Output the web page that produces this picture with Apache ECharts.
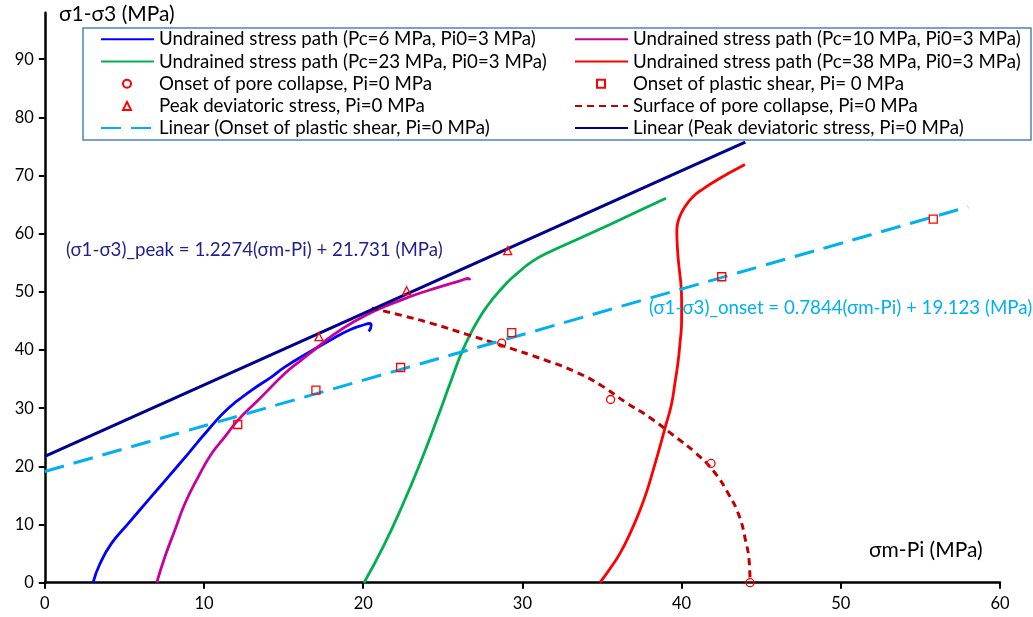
<!DOCTYPE html>
<html>
<head>
<meta charset="utf-8">
<script src="https://cdn.jsdelivr.net/npm/echarts@6/dist/echarts.min.js"></script>
<style>
  html, body { margin: 0; padding: 0; background: #fff; }
  #chart { width: 1033px; height: 617px; }
</style>
</head>
<body>
<div id="chart"></div>
<script>
// stress paths [σm-Pi, σ1-σ3]
var pathPc6 = [[3.03,0],[3.47,3.3],[4.2,6.8],[5.25,10.2],[6.5,14.2],[7.76,18.2],[9.01,22.2],[10.27,26.3],[11.53,30.0],
  [13.0,33.1],[14.25,35.4],[15.09,37.1],[16.66,39.7],[18.12,42.0],[19.17,43.5],[20.0,44.3],[20.42,44.6],[20.5,44.2],[20.35,43.2]];
var pathPc10 = [[7.03,0],[7.55,4.5],[8.18,9.1],[8.81,13.65],[9.64,18.2],[10.48,22.2],[11.32,25.1],[12.15,28.0],
  [13.41,31.4],[15.09,36.0],[16.03,38.1],[17.0,40.2],[18.12,42.6],[19.5,45.0],[20.85,46.9],[22.3,48.5],
  [23.36,49.6],[24.5,50.6],[25.45,51.4],[26.2,52.0],[26.6,52.3],[26.7,52.0]];
var pathPc23 = [[20.05,0],[21.26,6.2],[22.52,13.65],[23.57,20.5],[24.62,28.0],[25.5,34.6],[26.19,39.6],[26.82,43.2],
  [27.5,46.4],[28.2,49.0],[29.0,51.5],[29.64,53.1],[30.6,55.2],[31.73,56.9],[33.5,59.1],[35.5,61.6],[37.3,63.9],[39.02,66.1]];
var pathPc38 = [[34.87,0],[35.5,2.4],[36.13,5.05],[36.8,8.7],[37.39,12.5],[37.85,16],[38.22,19.4],[38.6,23],[39.0,27.0],
  [39.35,30.5],[39.58,34.3],[39.78,38],[39.9,41.2],[40.0,45],[40.0,48.6],[39.95,51.5],[39.85,54],[39.75,57],[39.7,60.6],
  [39.85,62.7],[40.2,64.6],[40.73,66.4],[41.4,67.8],[42.2,69.2],[43.1,70.6],[43.98,71.9]];
var poreSurface = [[20.53,47.2],[22.5,45.9],[24.4,44.5],[26.5,42.7],[28.7,40.8],[31.5,38.2],[33.3,36.3],[34.9,34.0],
  [36.5,31.0],[38.0,28.4],[39.5,25.3],[40.8,22.5],[42.0,19.2],[43.0,15.0],[43.6,11.6],[44.0,7.5],[44.25,3.5],[44.3,0]];

// measured points
var poreOnset = [[28.7,41.2],[35.54,31.5],[41.85,20.5],[44.3,0]];
var shearOnset = [[12.12,27.2],[17.03,33.1],[22.35,37.0],[29.33,43.0],[42.52,52.6],[55.81,62.5]];
var peakStress = [[17.22,42.3],[22.73,50.2],[29.08,57.1]];

// linear fits: [slope, intercept, xEnd]
var fitOnset = [0.7844, 19.123, 58];
var fitPeak = [1.2274, 21.731, 44];

var yTicks = [0, 10, 20, 30, 40, 50, 60, 70, 80, 90];

var names = [
  'Undrained stress path (Pc=6 MPa, Pi0=3 MPa)',
  'Undrained stress path (Pc=10 MPa, Pi0=3 MPa)',
  'Undrained stress path (Pc=23 MPa, Pi0=3 MPa)',
  'Undrained stress path (Pc=38 MPa, Pi0=3 MPa)',
  'Onset of pore collapse, Pi=0 MPa',
  'Onset of plastic shear, Pi= 0 MPa',
  'Peak deviatoric stress, Pi=0 MPa',
  'Surface of pore collapse, Pi=0 MPa',
  'Linear (Onset of plastic shear, Pi=0 MPa)',
  'Linear (Peak deviatoric stress, Pi=0 MPa)'
];

function fitLine(f) {
  return [[0, f[1]], [f[2], f[0] * f[2] + f[1]]];
}

var FONT = 'Lato, "Open Sans", sans-serif';

function lineSeries(name, data, color, width, type) {
  return {
    name: name, type: 'line', data: data, symbol: 'none', smooth: 0.5,
    lineStyle: { color: color, width: width, type: type || 'solid' },
    itemStyle: { color: color },
    z: 3
  };
}

function markerSeries(name, data, symbol, size) {
  return {
    name: name, type: 'scatter', data: data, symbol: symbol, symbolSize: size,
    itemStyle: { color: 'rgba(255,255,255,0)', borderColor: '#ff0000', borderWidth: 1.3, opacity: 1 },
    z: 5
  };
}

// line legend: 53px line sample, no symbol
function lineLegend(list, left, top) {
  return {
    data: list, orient: 'vertical', left: left, top: top,
    itemWidth: 53, itemHeight: 14, itemGap: 0.2,
    padding: 0, selectedMode: false,
    itemStyle: { opacity: 0 },
    textStyle: { fontFamily: FONT, fontSize: 18.7, color: '#000', lineHeight: 22 }
  };
}

// marker legend: small symbol centred where the line sample would be
function markerLegend(list, left, top) {
  return {
    data: list, orient: 'vertical', left: left, top: top,
    itemWidth: 8, itemHeight: 8, itemGap: 0.2,
    padding: 0, selectedMode: false,
    textStyle: { fontFamily: FONT, fontSize: 18.7, color: '#000', lineHeight: 22, padding: [0, 0, 0, 23] }
  };
}

var chart = echarts.init(document.getElementById('chart'));

var option = {
  animation: false,
  backgroundColor: '#fff',
  grid: { left: 44.8, right: 33, top: 12.7, bottom: 34.3 },
  xAxis: {
    type: 'value', min: 0, max: 60, interval: 10,
    axisLine: { lineStyle: { color: '#000', width: 2.5 } },
    axisTick: { show: true, length: 6, inside: false, lineStyle: { color: '#000', width: 2 } },
    axisLabel: { fontFamily: FONT, fontSize: 16.5, color: '#000', margin: 12 },
    splitLine: { show: false }
  },
  yAxis: {
    type: 'value', min: 0, max: 98, interval: 10,
    axisLine: { show: true, lineStyle: { color: '#000', width: 2.5 } },
    axisTick: { show: true, length: 6, customValues: yTicks, lineStyle: { color: '#000', width: 2 } },
    axisLabel: { fontFamily: FONT, fontSize: 16.5, color: '#000', margin: 11, customValues: yTicks },
    splitLine: { show: false }
  },
  legend: [
    lineLegend([names[0], names[2]], 100, 28.3),
    markerLegend([names[4], names[6]], 122, 72.7),
    lineLegend([names[8]], 100, 117.1),
    lineLegend([names[1], names[3]], 574, 28.3),
    markerLegend([names[5]], 596, 72.7),
    lineLegend([names[7], names[9]], 574, 94.9)
  ],
  graphic: [
    { type: 'rect', shape: { x: 83, y: 28, width: 948, height: 112 },
      style: { fill: '#fff', stroke: '#4f81bd', lineWidth: 1.5 }, z: 3 },
    { type: 'text', left: 59, top: 4,
      style: { text: 'σ1-σ3 (MPa)', font: '21px ' + FONT, fill: '#000' }, z: 10 },
    { type: 'text', left: 869, top: 540,
      style: { text: 'σm-Pi (MPa)', font: '21px ' + FONT, fill: '#000' }, z: 10 },
    { type: 'text', left: 66, top: 240,
      style: { text: '(σ1-σ3)_peak = 1.2274(σm-Pi) + 21.731 (MPa)', font: '18.7px ' + FONT, fill: '#1f1f8f' }, z: 10 },
    { type: 'text', left: 649, top: 298,
      style: { text: '(σ1-σ3)_onset = 0.7844(σm-Pi) + 19.123 (MPa)', font: '18.7px ' + FONT, fill: '#00b0f0' }, z: 10 }
  ],
  series: [
    lineSeries(names[0], pathPc6, '#0000ff', 2.8),
    lineSeries(names[1], pathPc10, '#c8009c', 2.8),
    lineSeries(names[2], pathPc23, '#00b050', 2.8),
    lineSeries(names[3], pathPc38, '#ff0000', 2.8),
    markerSeries(names[4], poreOnset, 'circle', 8),
    markerSeries(names[5], shearOnset, 'rect', 8),
    markerSeries(names[6], peakStress, 'triangle', 8),
    lineSeries(names[7], poreSurface, '#c00000', 3, [7, 5]),
    lineSeries(names[8], fitLine(fitOnset), '#00b0f0', 3, [20, 10]),
    lineSeries(names[9], fitLine(fitPeak), '#000090', 3)
  ]
};

chart.setOption(option);
</script>
</body>
</html>
